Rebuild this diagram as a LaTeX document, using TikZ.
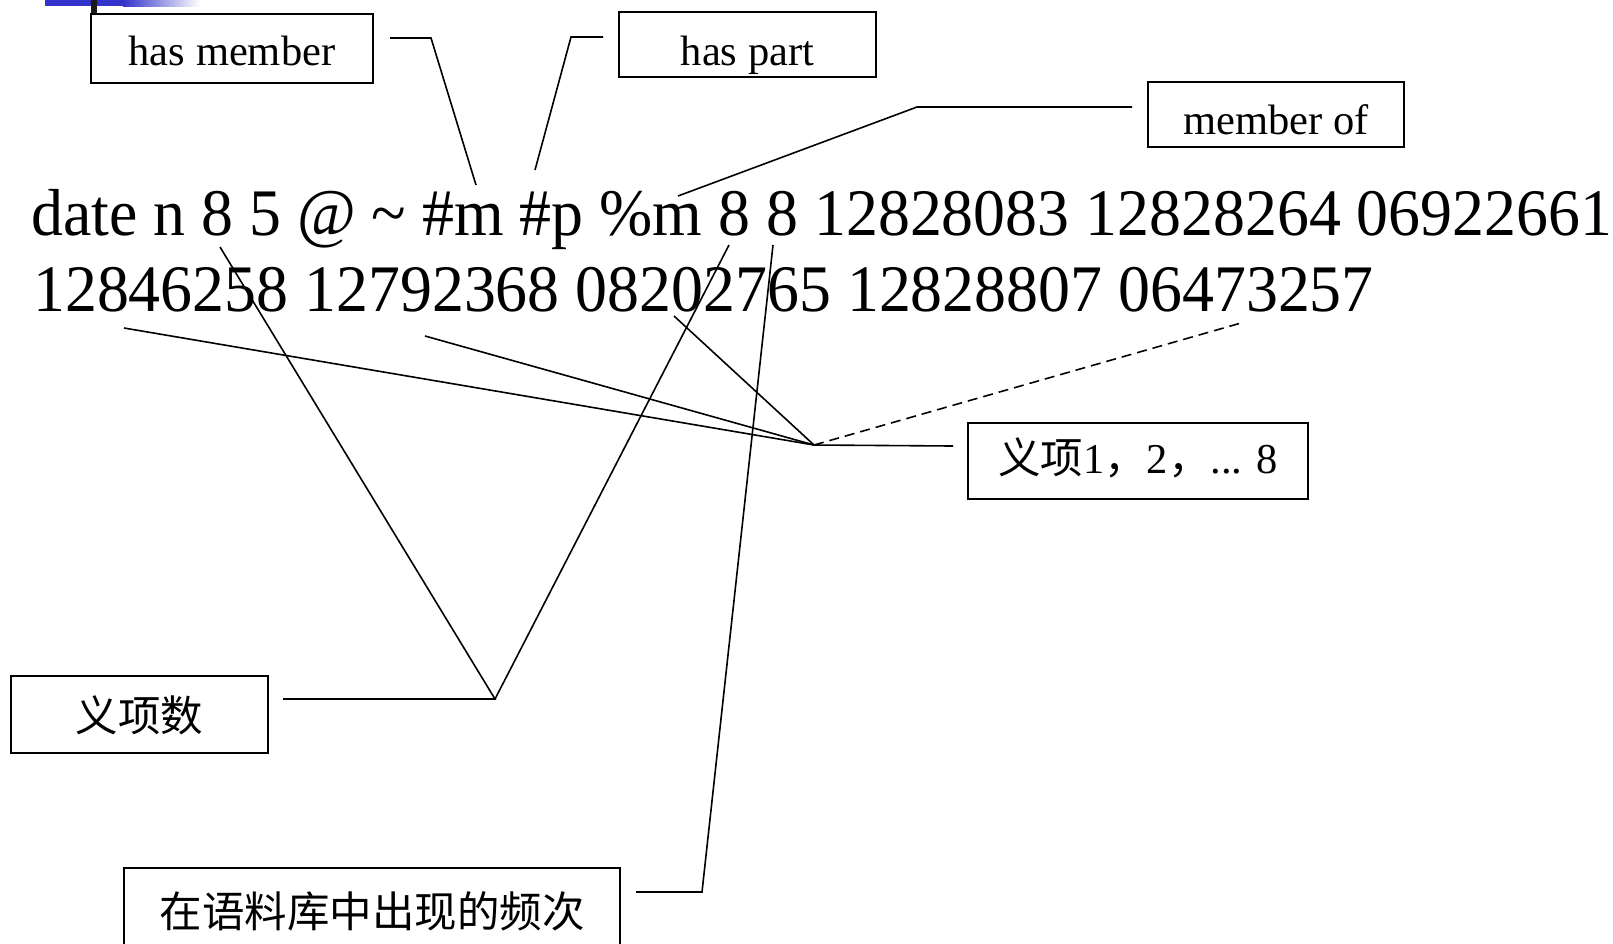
\documentclass[tikz,border=0pt]{standalone}
\usepackage{fontspec}
\setmainfont{Liberation Serif}
\newfontfamily\cjk{Noto Sans CJK SC}
\newfontfamily\numfont[FakeStretch=0.96]{Liberation Serif}
\definecolor{barblue}{RGB}{51,51,204}
\begin{document}
\begin{tikzpicture}[x=1pt,y=-1pt,
  box/.style={draw, line width=1.6pt, inner sep=0pt, text depth=0pt,
              font=\fontsize{42.5}{48}\selectfont},
  conn/.style={line width=1.6pt},
  dconn/.style={line width=1.6pt, dash pattern=on 10pt off 6pt},
  bigtext/.style={anchor=base west, inner sep=0pt,
              font=\numfont\fontsize{66.5}{70}\selectfont}]
\useasboundingbox (0,0) rectangle (1613,943);
\clip (0,0) rectangle (1613,943);
% decoration at the top left
\fill[barblue] (45,0) rectangle (123,6);
\fill[left color=barblue, right color=white] (123,0) rectangle (200,6);
\fill[black!90] (91,0) rectangle (97,14);

% text lines
\node[bigtext] (l1) at (31,235) {date n 8 5 @ \textasciitilde{} \#m \#p \%m 8 8 12828083 12828264 06922661};
\node[bigtext] (l2) at (33,311) {12846258 12792368 08202765 12828807 06473257};

% boxes
\node[box, minimum width=282pt, minimum height=69pt, text height=33pt] (hm) at (232,48.5) {has member};
\node[box, minimum width=257pt, minimum height=65pt, text height=41pt] (hp) at (747.5,44.5) {has part};
\node[box, minimum width=256pt, minimum height=65pt, text height=40pt] (mo) at (1276,114.5) {member of};
\node[box, minimum width=340pt, minimum height=76pt, text height=24pt] (sn) at (1138,461) {{\cjk 义项}1{\cjk ，}2{\cjk ，}... 8};
\node[box, minimum width=257pt, minimum height=77pt, text height=33pt] (ns) at (139.5,714.5) {\cjk 义项数};
\node[box, minimum width=496pt, minimum height=82pt, text height=36pt] (fq) at (372,909) {\cjk 在语料库中出现的频次};

% connector points
\coordinate (hm1) at (390,38);  \coordinate (hm2) at (431,38);  \coordinate (hm3) at (476,185);
\coordinate (hp1) at (603,37);  \coordinate (hp2) at (571,37);  \coordinate (hp3) at (535,170);
\coordinate (mo1) at (1132,107); \coordinate (mo2) at (917,107); \coordinate (mo3) at (678,196);
\coordinate (sv) at (814,445);  \coordinate (sh) at (953,446);
\coordinate (sa) at (124,328);  \coordinate (sb) at (425,336);
\coordinate (sc) at (674,316);  \coordinate (sd) at (1241,323);
\coordinate (nv) at (495,699);  \coordinate (nh) at (283,699);
\coordinate (nl) at (220,247);  \coordinate (nr) at (729,245);
\coordinate (fh) at (636,892);  \coordinate (fv) at (702,892);  \coordinate (ft) at (773,245);

% connectors
\draw[conn] (hm1) -- (hm2) -- (hm3);
\draw[conn] (hp1) -- (hp2) -- (hp3);
\draw[conn] (mo1) -- (mo2) -- (mo3);
\draw[conn] (sh) -- (sv);
\draw[conn] (sa) -- (sv);
\draw[conn] (sb) -- (sv);
\draw[conn] (sc) -- (sv);
\draw[dconn] (sv) -- (sd);
\draw[conn] (nh) -- (nv) -- (nl);
\draw[conn] (nv) -- (nr);
\draw[conn] (fh) -- (fv) -- (ft);
\end{tikzpicture}
\end{document}
